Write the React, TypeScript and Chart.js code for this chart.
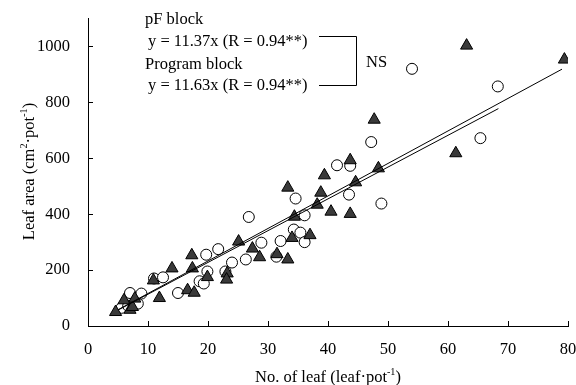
import { useEffect, useRef } from "react";
import { Chart, registerables } from "chart.js";

Chart.register(...registerables);

// ---- Data ----
// pF block (open circles)
const pfX = [5.6, 6.7, 7.0, 8.3, 8.9, 11.0, 12.5, 15.0, 18.6, 19.3, 19.9, 19.7, 21.7, 22.9, 24.0, 26.3, 26.8, 28.9, 31.4, 32.1, 34.3, 35.4, 36.1, 34.6, 36.1, 41.5, 43.7, 43.5, 47.2, 48.9, 54.0, 65.4, 68.3];
const pfY = [65, 72, 118, 80, 116, 170, 174, 118, 160, 152, 195, 255, 275, 195, 227, 238, 390, 298, 248, 304, 345, 334, 300, 456, 396, 575, 573, 470, 658, 438, 920, 672, 857];
// Program block (filled triangles)
const progX = [4.6, 6.0, 7.0, 7.4, 7.8, 10.9, 11.9, 14.0, 16.6, 17.7, 17.3, 17.4, 19.9, 23.2, 23.1, 25.1, 27.4, 28.6, 31.5, 33.3, 34.0, 34.4, 33.3, 37.0, 38.2, 38.8, 39.4, 40.5, 43.7, 43.7, 44.6, 48.4, 47.7, 61.3, 63.1, 79.4];
const progY = [50, 92, 58, 68, 98, 163, 100, 206, 128, 119, 253, 206, 175, 188, 166, 302, 277, 246, 257, 238, 315, 391, 495, 325, 434, 477, 539, 409, 401, 593, 514, 564, 738, 618, 1003, 953];
// Regression lines (y = slope * x)
const pfSlope = 11.37;
const progSlope = 11.63;
const pfLineX = [5, 68.4];
const progLineX = [5, 79];

const xTicks = [0, 10, 20, 30, 40, 50, 60, 70, 80];
const yTicks = [0, 200, 400, 600, 800, 1000];

const FONT = "'Liberation Serif', 'Times New Roman', serif";
const FS = 16.5;

type Part = { t: string; sup?: boolean };

function richWidth(ctx: CanvasRenderingContext2D, parts: Part[]) {
  let w = 0;
  for (const p of parts) {
    ctx.font = `${p.sup ? FS * 0.62 : FS}px ${FONT}`;
    w += ctx.measureText(p.t).width;
  }
  return w;
}

function drawRich(ctx: CanvasRenderingContext2D, parts: Part[], cx: number, baseline: number) {
  const w = richWidth(ctx, parts);
  let x = cx - w / 2;
  ctx.textBaseline = "alphabetic";
  ctx.textAlign = "left";
  for (const p of parts) {
    ctx.font = `${p.sup ? FS * 0.62 : FS}px ${FONT}`;
    ctx.fillText(p.t, x, p.sup ? baseline - FS * 0.42 : baseline);
    x += ctx.measureText(p.t).width;
  }
}

const decorPlugin = {
  id: "decor",
  afterDraw(chart: any) {
    const ctx: CanvasRenderingContext2D = chart.ctx;
    const xs = chart.scales.x;
    const ys = chart.scales.y;
    const area = chart.chartArea;
    ctx.save();
    ctx.strokeStyle = "#000";
    ctx.lineWidth = 1;
    ctx.beginPath();
    for (const v of xTicks) {
      const px = Math.round(xs.getPixelForValue(v)) + 0.5;
      ctx.moveTo(px, area.bottom);
      ctx.lineTo(px, area.bottom - 5);
    }
    for (const v of yTicks) {
      const py = Math.round(ys.getPixelForValue(v)) + 0.5;
      ctx.moveTo(area.left, py);
      ctx.lineTo(area.left + 5, py);
    }
    // bracket
    ctx.moveTo(319, 36.5);
    ctx.lineTo(356.5, 36.5);
    ctx.lineTo(356.5, 85.5);
    ctx.lineTo(319, 85.5);
    ctx.stroke();

    ctx.fillStyle = "#000";
    ctx.font = `${FS}px ${FONT}`;
    ctx.textAlign = "left";
    ctx.textBaseline = "alphabetic";
    ctx.fillText("pF block", 145, 24);
    ctx.fillText("y = 11.37x (R = 0.94**)", 148, 46);
    ctx.fillText("Program block", 145, 68.5);
    ctx.fillText("y = 11.63x (R = 0.94**)", 148, 89.5);
    ctx.fillText("NS", 366, 67);

    // x title
    drawRich(
      ctx,
      [{ t: "No. of leaf (leaf\u00b7pot" }, { t: "-1", sup: true }, { t: ")" }],
      (area.left + area.right) / 2,
      381.5
    );
    // y title
    ctx.save();
    ctx.translate(34, 171.5);
    ctx.rotate(-Math.PI / 2);
    drawRich(
      ctx,
      [
        { t: "Leaf area (cm" },
        { t: "2", sup: true },
        { t: "\u00b7pot" },
        { t: "-1", sup: true },
        { t: ")" },
      ],
      0,
      0
    );
    ctx.restore();
    ctx.restore();
  },
};

export default function App() {
  const ref = useRef<HTMLCanvasElement>(null);
  useEffect(() => {
    document.body.style.margin = "0";
    const canvas = ref.current!;
    const chart = new Chart(canvas, {
      type: "scatter",
      data: {
        datasets: [
          {
            type: "line",
            data: progLineX.map((x) => ({ x, y: progSlope * x })),
            borderColor: "#000",
            borderWidth: 1,
            pointRadius: 0,
            fill: false,
          },
          {
            type: "line",
            data: pfLineX.map((x) => ({ x, y: pfSlope * x })),
            borderColor: "#000",
            borderWidth: 1,
            pointRadius: 0,
            fill: false,
          },
          {
            data: progX.map((x, i) => ({ x, y: progY[i] })),
            pointStyle: "triangle",
            pointRadius: 7,
            backgroundColor: "#3a3a3a",
            borderColor: "#000",
            borderWidth: 1,
          },
          {
            data: pfX.map((x, i) => ({ x, y: pfY[i] })),
            pointStyle: "circle",
            pointRadius: 5.5,
            backgroundColor: "#fff",
            borderColor: "#000",
            borderWidth: 1,
          },
        ] as any,
      },
      options: {
        animation: false,
        responsive: false,
        devicePixelRatio: 1,
        layout: { padding: { top: 18.5, right: 6.5, left: 0, bottom: 0 } },
        plugins: { legend: { display: false }, tooltip: { enabled: false } },
        scales: {
          x: {
            type: "linear",
            min: 0,
            max: 80,
            afterBuildTicks: (s: any) => {
              s.ticks = xTicks.map((v) => ({ value: v }));
            },
            afterFit: (s: any) => {
              s.height = 59;
              s.paddingLeft = 0;
              s.paddingRight = 0;
            },
            ticks: {
              font: { family: FONT, size: FS },
              color: "#000",
              padding: 14,
              maxRotation: 0,
              callback: (v: any) => String(v),
            },
            grid: { display: false, drawTicks: false },
            border: { display: true, color: "#000", width: 1 },
          },
          y: {
            type: "linear",
            min: 0,
            max: 1100,
            afterBuildTicks: (s: any) => {
              s.ticks = yTicks.map((v) => ({ value: v }));
            },
            afterFit: (s: any) => {
              s.width = 88;
              s.paddingTop = 0;
              s.paddingBottom = 0;
            },
            ticks: {
              font: { family: FONT, size: FS },
              color: "#000",
              padding: 18,
              callback: (v: any) => String(v),
            },
            grid: { display: false, drawTicks: false },
            border: { display: true, color: "#000", width: 1 },
          },
        },
      },
      plugins: [decorPlugin],
    });
    return () => chart.destroy();
  }, []);
  return (
    <div style={{ width: 576, height: 385 }}>
      <canvas ref={ref} width={576} height={385} style={{ display: "block" }} />
    </div>
  );
}
